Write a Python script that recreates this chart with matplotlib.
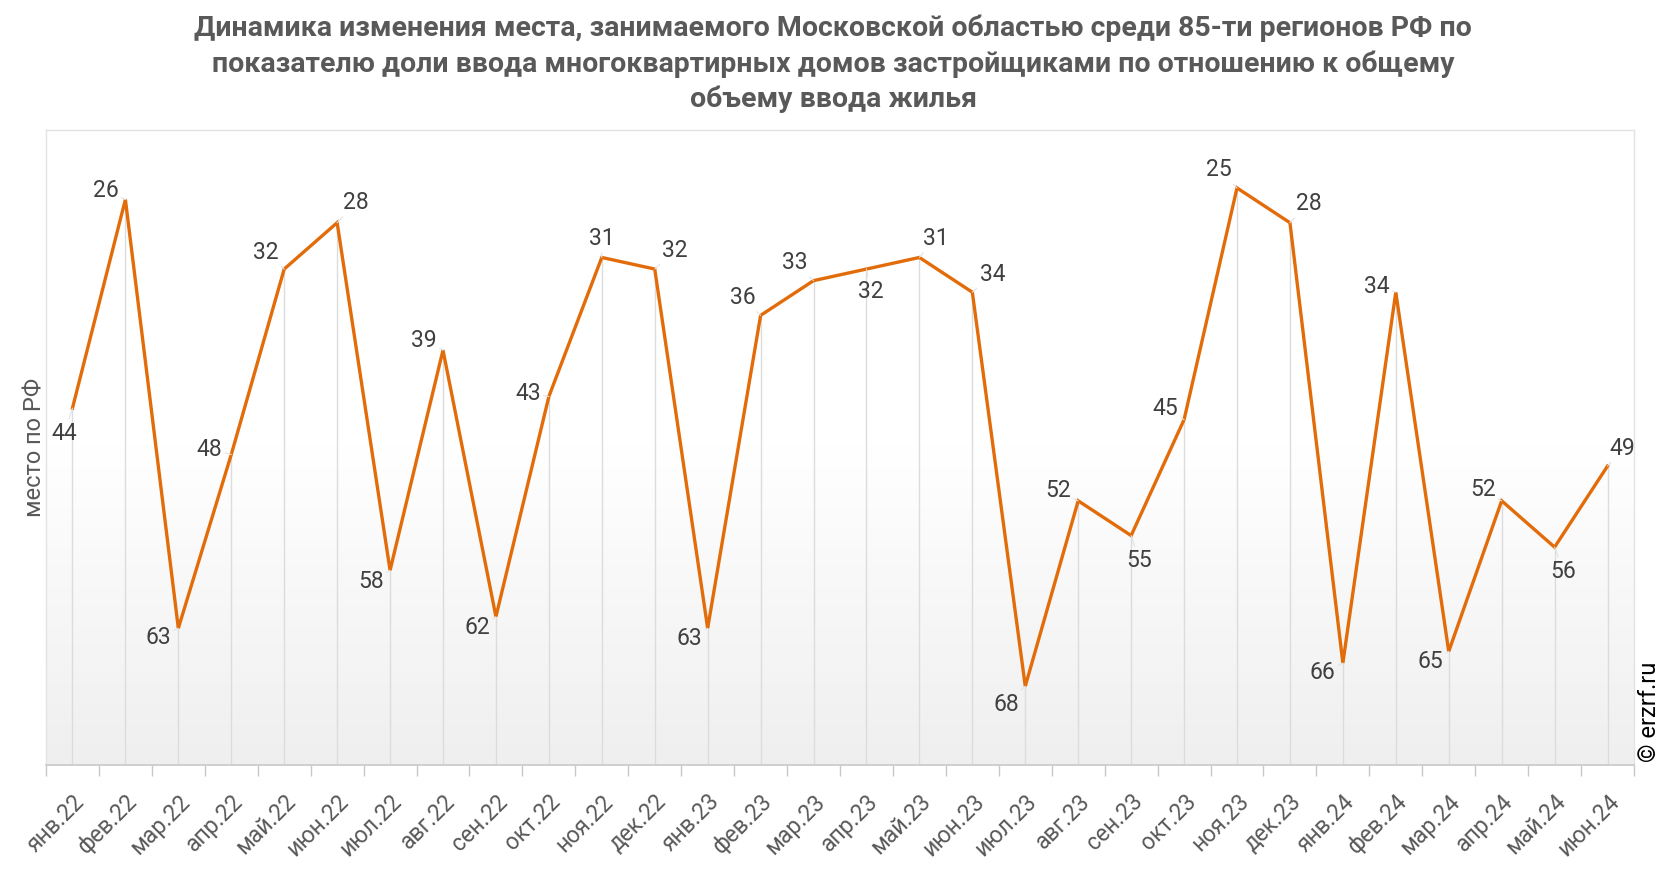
import numpy as np
import matplotlib
matplotlib.use("Agg")
from matplotlib import pyplot as plt
from matplotlib.colors import LinearSegmentedColormap

plt.rcParams["font.family"] = ["Roboto", "DejaVu Sans"]

TITLE = ("Динамика изменения места, занимаемого Московской областью среди 85-ти регионов РФ по\n"
         "показателю доли ввода многоквартирных домов застройщиками по отношению к общему\n"
         "объему ввода жилья")

months = ["янв.22", "фев.22", "мар.22", "апр.22", "май.22", "июн.22", "июл.22", "авг.22",
          "сен.22", "окт.22", "ноя.22", "дек.22", "янв.23", "фев.23", "мар.23", "апр.23",
          "май.23", "июн.23", "июл.23", "авг.23", "сен.23", "окт.23", "ноя.23", "дек.23",
          "янв.24", "фев.24", "мар.24", "апр.24", "май.24", "июн.24"]
ranks = [44, 26, 63, 48, 32, 28, 58, 39, 62, 43, 31, 32, 63, 36, 33, 32,
         31, 34, 68, 52, 55, 45, 25, 28, 66, 34, 65, 52, 56, 49]

# label offsets in pixels (dx, dy)
label_offsets = [(-8, -25), (-20, 9), (-20, -9), (-22, 5), (-18, 17), (19, 20), (-19, -11),
                 (-19, 10), (-19, -11), (-21, 3), (0, 19), (20, 19), (-18, -10), (-18, 18),
                 (-19, 18), (4, -22), (16, 19), (20, 18), (-19, -18), (-20, 10), (8, -25),
                 (-19, 11), (-18, 18), (19, 19), (-20, -9), (-19, 6), (-18, -10), (-19, 11),
                 (9, -24), (15, 18)]

LINE_COLOR = "#e36c0a"
TEXT_COLOR = "#404040"
GRID_COLOR = "#dcdcdc"

W, H = 1666, 872
fig = plt.figure(figsize=(W / 100, H / 100), dpi=100)
ax = fig.add_axes([46 / W, (H - 765) / H, (1634 - 46) / W, (765 - 130) / H])

x = np.arange(len(months))
ax.set_xlim(-0.5, len(months) - 0.5)
ax.set_ylim(74.8, 20)

# background gradient, white on top to light gray at bottom
cmap = LinearSegmentedColormap.from_list("bg", ["#ffffff", "#ffffff", "#efefef"])
grad = np.linspace(0, 1, 256).reshape(-1, 1)
ax.imshow(grad, cmap=cmap, aspect="auto", extent=[0, 1, 0, 1],
          transform=ax.transAxes, zorder=0)

# drop lines
ax.vlines(x, ranks, 74.8, color=GRID_COLOR, lw=1, zorder=1)

ax.plot(x, ranks, color=LINE_COLOR, lw=2.4, zorder=3, solid_joinstyle="miter")

for xi, val, (dx, dy) in zip(x, ranks, label_offsets):
    ax.annotate(str(val), (xi, val), xytext=(dx, dy), textcoords="offset pixels",
                ha="center", va="center", fontsize=16.5, color=TEXT_COLOR, zorder=4,
                arrowprops=dict(arrowstyle="-", color="#e2e2e2", lw=0.8,
                                shrinkA=0, shrinkB=0))

# axes styling
for side in ["top", "left", "right"]:
    ax.spines[side].set_color("#e3e3e3")
    ax.spines[side].set_linewidth(1)
ax.spines["bottom"].set_color("#c8c8c8")
ax.spines["bottom"].set_linewidth(1.2)

ax.set_yticks([])
ax.set_xticks(np.arange(-0.5, len(months), 1), minor=False)
ax.set_xticklabels([])
ax.tick_params(axis="x", which="major", length=8, color="#c8c8c8", width=1)
ax.set_xticks(x, minor=True)
ax.set_xticklabels(months, minor=True, rotation=45, ha="right", va="top",
                   rotation_mode="anchor", fontsize=16.5, color="#595959")
ax.tick_params(axis="x", which="minor", length=0, pad=18)

ax.set_ylabel("место по РФ", fontsize=17, color="#595959", labelpad=0)

fig.text(0.5, 1 - 15 / H, TITLE, ha="center", va="top", fontsize=20.5,
         fontweight="bold", color="#595959", linespacing=1.36)

fig.text(1650 / W, 1 - 712 / H, "© erzrf.ru", rotation=90, ha="center", va="center",
         fontsize=17, color="#000000")

fig.savefig("out.png", dpi=100)
